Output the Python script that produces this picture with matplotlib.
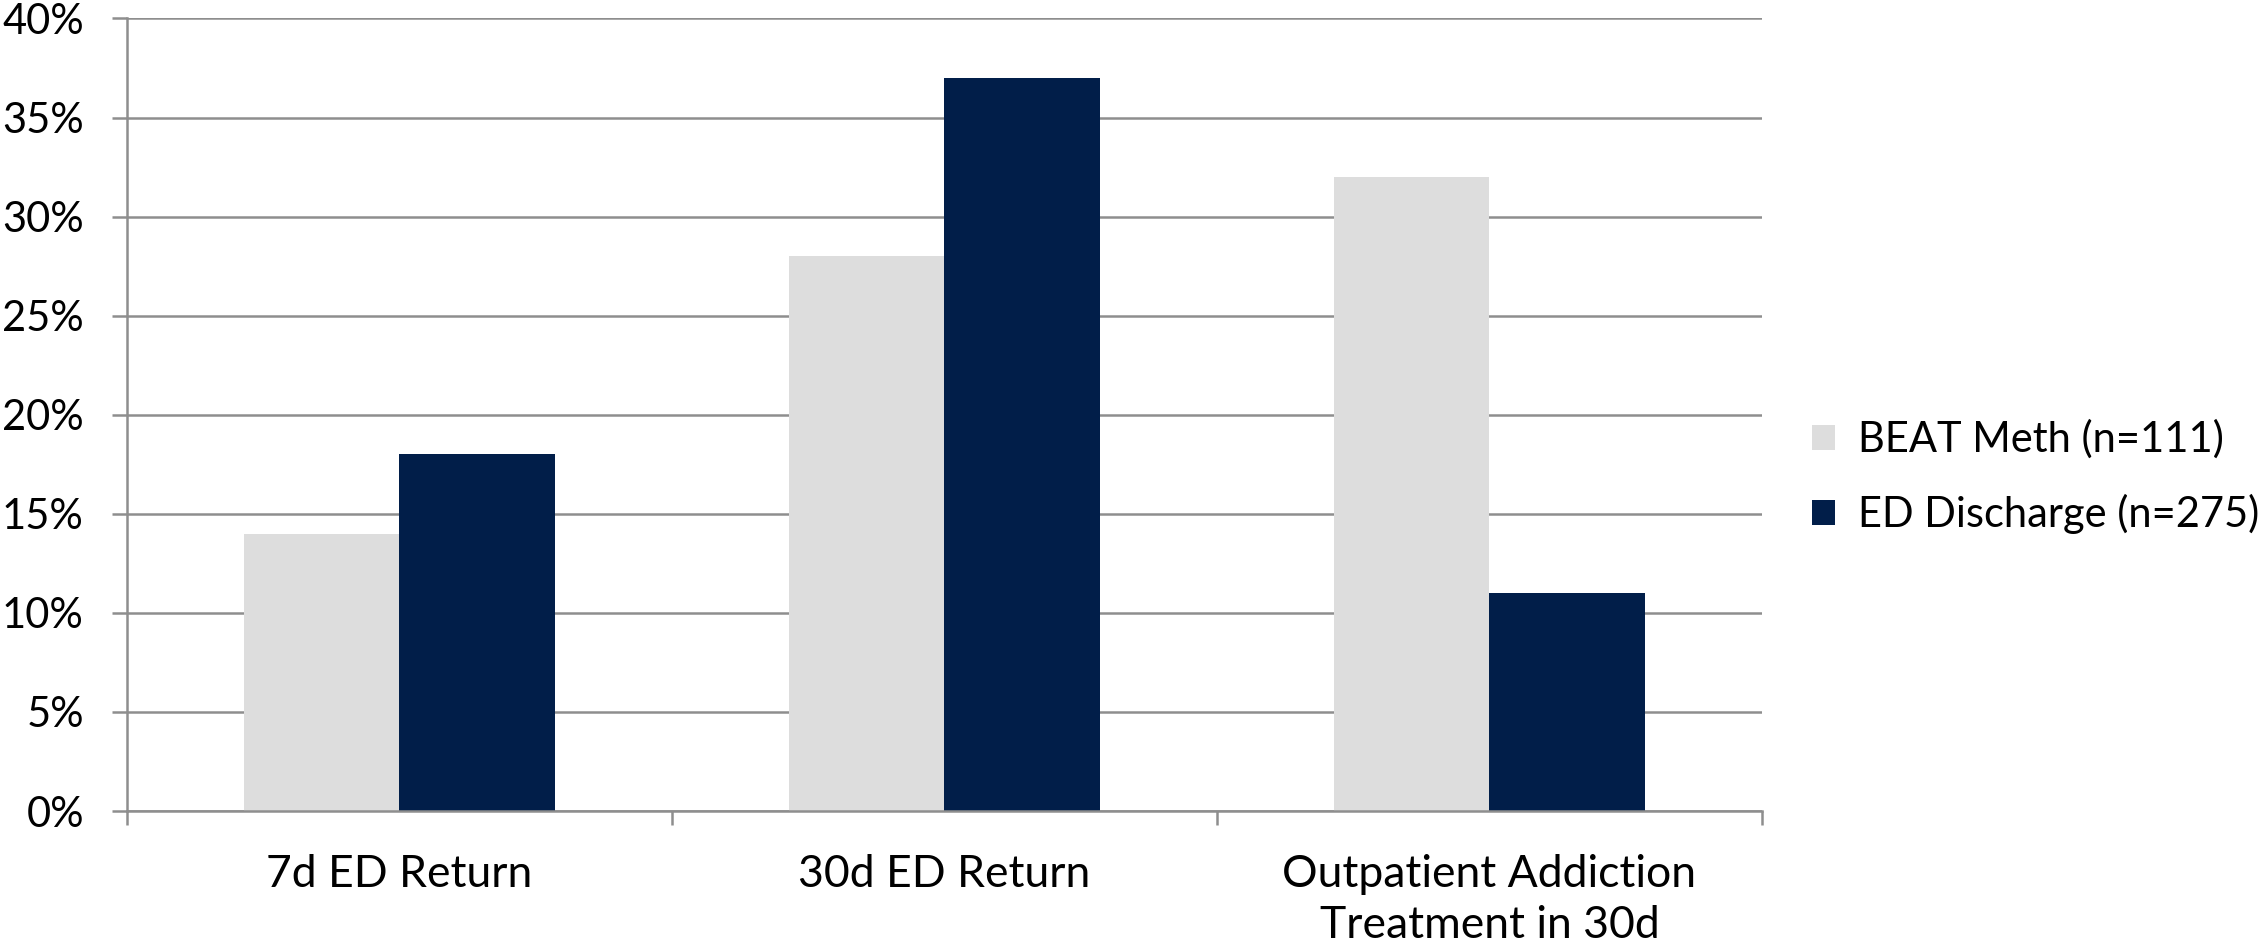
import numpy as np
import matplotlib
matplotlib.use("Agg")
import matplotlib.pyplot as plt
from matplotlib.patches import Patch
from matplotlib.ticker import PercentFormatter

# Data
categories = ["7d ED Return", "30d ED Return", "Outpatient Addiction\nTreatment in 30d"]
beat_meth = [14, 28, 32]
ed_discharge = [18, 37, 11]
series_labels = ["BEAT Meth (n=111)", "ED Discharge (n=275)"]
y_ticks = [0, 5, 10, 15, 20, 25, 30, 35, 40]

LIGHT = "#DDDDDD"
NAVY = "#011E49"
GRID = "#8E8E8E"
FS = 30

plt.rcParams["font.family"] = ["Lato", "DejaVu Sans"]

fig = plt.figure(figsize=(22.67, 9.48), dpi=100)
ax = fig.add_axes([0.0560, 0.1445, 0.7212, 0.8360])

x = np.arange(len(categories))
w = 0.2857
ax.bar(x - w / 2, beat_meth, width=w, color=LIGHT, zorder=3)
ax.bar(x + w / 2, ed_discharge, width=w, color=NAVY, zorder=3)

ax.set_xlim(-0.5, len(categories) - 0.5)
ax.set_ylim(0, 40)

# y axis: gridlines with outward ticks
ax.set_yticks(y_ticks)
ax.yaxis.set_major_formatter(PercentFormatter(decimals=0))
ax.yaxis.grid(True, color=GRID, linewidth=1.8, zorder=0)
ax.tick_params(axis="y", length=11, width=1.8, color=GRID, pad=20, labelsize=FS)

# x axis: ticks at category boundaries, labels centred on categories
ax.set_xticks(np.arange(len(categories) + 1) - 0.5)
ax.set_xticklabels([])
ax.set_xticks(x, minor=True)
ax.set_xticklabels(categories, minor=True, fontsize=32, linespacing=1.3)
ax.tick_params(axis="x", which="major", length=10, width=1.8, color=GRID)
ax.tick_params(axis="x", which="minor", length=0, pad=31)

for side in ("top", "right"):
    ax.spines[side].set_visible(False)
for side in ("left", "bottom"):
    ax.spines[side].set_color(GRID)
    ax.spines[side].set_linewidth(1.8)
    ax.spines[side].set_zorder(4)

handles = [Patch(facecolor=LIGHT), Patch(facecolor=NAVY)]
fig.legend(handles, series_labels, loc="center left",
           bbox_to_anchor=(0.792, 0.497), frameon=False, fontsize=FS,
           handlelength=0.55, handleheight=0.55, handletextpad=0.55,
           labelspacing=0.84, borderaxespad=0)

fig.savefig("out.png", dpi=100)
